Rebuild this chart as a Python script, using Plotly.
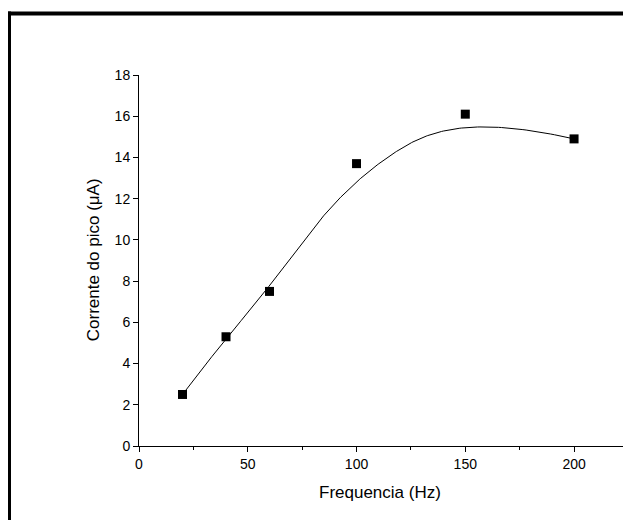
import numpy as np
import plotly.graph_objects as go

freq = [20, 40, 60, 100, 150, 200]
current = [2.5, 5.3, 7.5, 13.7, 16.1, 14.9]
x_ticks = [0, 50, 100, 150, 200]
y_ticks = [0, 2, 4, 6, 8, 10, 12, 14, 16, 18]
x_title = "Frequencia (Hz)"
y_title = "Corrente do pico (μA)"


# B-spline connection: data points act as control points (curve passes through the end points)
def bspline(px, py, inner, degree=3, n=400):
    pts = np.column_stack([px, py]).astype(float)
    m = len(pts)
    k = degree
    knots = np.concatenate([[0] * (k + 1), inner, [1] * (k + 1)])

    def basis(i, p, t):
        if p == 0:
            if knots[i] <= t < knots[i + 1] or (t == 1 and knots[i + 1] == 1 and knots[i] < 1):
                return 1.0
            return 0.0
        a = 0.0
        if knots[i + p] != knots[i]:
            a = (t - knots[i]) / (knots[i + p] - knots[i]) * basis(i, p - 1, t)
        b = 0.0
        if knots[i + p + 1] != knots[i + 1]:
            b = (knots[i + p + 1] - t) / (knots[i + p + 1] - knots[i + 1]) * basis(i + 1, p - 1, t)
        return a + b

    out = []
    for t in np.linspace(0, 1, n):
        w = np.array([basis(i, k, t) for i in range(m)])
        out.append(w @ pts)
    out = np.array(out)
    return out[:, 0], out[:, 1]


fit_x, fit_y = bspline(freq, current, [0.45, 0.8])

W, H = 623, 520
L, R, T, B = 139, 0, 74.5, 74
pw = W - L - R
ph = H - T - B
font = "Liberation Sans, Arial, sans-serif"

fig = go.Figure()
fig.add_trace(go.Scatter(x=fit_x, y=fit_y, mode="lines",
                         line=dict(color="black", width=1), hoverinfo="skip"))
fig.add_trace(go.Scatter(x=freq, y=current, mode="markers",
                         marker=dict(symbol="square", size=9, color="black", line=dict(width=0))))

fig.update_layout(
    width=W, height=H,
    margin=dict(l=L, r=R, t=T, b=B, pad=0),
    paper_bgcolor="white", plot_bgcolor="white",
    showlegend=False,
    font=dict(family=font, color="black", size=14),
    xaxis=dict(range=[0, 222.5], tickvals=x_ticks, ticks="outside", ticklen=5,
               tickwidth=1, tickcolor="black", showline=True, linecolor="black",
               linewidth=1, showgrid=False, zeroline=False,
               minor=dict(dtick=25, tick0=0, ticks="outside", ticklen=3,
                          tickcolor="black", tickwidth=1, showgrid=False),
               tickfont=dict(size=14, family=font)),
    yaxis=dict(range=[0, 18], tickvals=y_ticks, ticks="outside", ticklen=5,
               tickwidth=1, tickcolor="black", showline=True, linecolor="black",
               linewidth=1, showgrid=False, zeroline=False,
               tickfont=dict(size=14, family=font)),
)


def px_to_paper_x(px):
    return (px - L) / pw


def px_to_paper_y(py):
    return (H - B - py) / ph


fig.add_annotation(text=x_title, xref="paper", yref="paper",
                   x=px_to_paper_x(380), y=px_to_paper_y(493),
                   xanchor="center", yanchor="middle", showarrow=False,
                   font=dict(size=17, family=font, color="black"))
fig.add_annotation(text=y_title, xref="paper", yref="paper",
                   x=px_to_paper_x(93), y=px_to_paper_y(260),
                   xanchor="center", yanchor="middle", showarrow=False,
                   textangle=-90, font=dict(size=17, family=font, color="black"))

# outer frame: top and left edges, kept inside the canvas
fig.add_shape(type="line", xref="paper", yref="paper",
              x0=px_to_paper_x(8), x1=px_to_paper_x(623),
              y0=px_to_paper_y(13), y1=px_to_paper_y(13),
              line=dict(color="black", width=4))
fig.add_shape(type="line", xref="paper", yref="paper",
              x0=px_to_paper_x(9.5), x1=px_to_paper_x(9.5),
              y0=px_to_paper_y(11), y1=px_to_paper_y(520),
              line=dict(color="black", width=3))

fig.write_html("out.html")
